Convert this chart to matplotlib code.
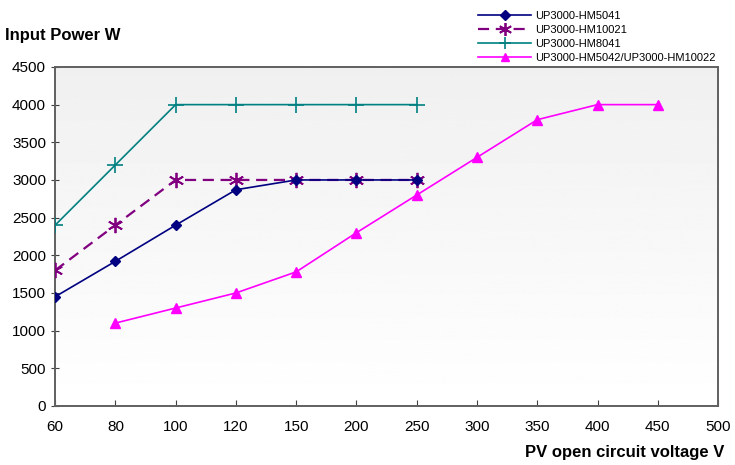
import numpy as np
import matplotlib
matplotlib.use('Agg')
import matplotlib.pyplot as plt

plt.rcParams['font.family'] = ['Liberation Sans', 'DejaVu Sans']

voltages = ['60', '80', '100', '120', '150', '200', '250', '300', '350', '400', '450', '500']

hm5041 = [1450, 1920, 2400, 2870, 3000, 3000, 3000]
hm10021 = [1800, 2400, 3000, 3000, 3000, 3000, 3000]
hm8041 = [2400, 3200, 4000, 4000, 4000, 4000, 4000]
hm5042_x = ['80', '100', '120', '150', '200', '250', '300', '350', '400', '450']
hm5042 = [1100, 1300, 1500, 1780, 2300, 2800, 3300, 3800, 4000, 4000]

pos = {v: i for i, v in enumerate(voltages)}

fig = plt.figure(figsize=(7.35, 4.65), dpi=100)
ax = fig.add_axes([0.075, 0.127, 0.902, 0.729])

# gradient background, light gray at top -> white at bottom
grad = np.linspace(0.94, 1.0, 256).reshape(-1, 1)
ax.imshow(grad, cmap='gray', vmin=0, vmax=1, aspect='auto',
          extent=[0, 1, 0, 1], transform=ax.transAxes, zorder=0)

x1 = [pos[v] for v in voltages[:7]]
ax.plot(x1, hm5041, color='#000080', lw=1.2, marker='D', ms=5.5,
        label='UP3000-HM5041', zorder=5)
ax.plot(x1, hm10021, color='#800080', lw=1.6, ls=(0, (5, 3)),
        marker=(6, 2, 0), ms=11, mew=1.3, label='UP3000-HM10021', zorder=4)
ax.plot(x1, hm8041, color='#008080', lw=1.2, marker='+', ms=11, mew=1.2,
        label='UP3000-HM8041', zorder=3)
ax.plot([pos[v] for v in hm5042_x], hm5042, color='#ff00ff', lw=1.2,
        marker='^', ms=7, label='UP3000-HM5042/UP3000-HM10022', zorder=3)

ax.set_xlim(0, 11)
ax.set_ylim(0, 4500)
ax.set_xticks(range(len(voltages)))
ax.set_xticklabels(voltages)
ax.set_yticks(range(0, 4501, 500))
ax.tick_params(axis='x', direction='in', length=4, labelsize=11, pad=10,
               color='#404040')
ax.tick_params(axis='y', direction='inout', length=6, labelsize=11,
               color='#404040')
for s in ax.spines.values():
    s.set_color('#606060')
    s.set_linewidth(1.4)

fig.text(0.007, 0.913, 'Input Power W', fontsize=12, fontweight='bold')
fig.text(0.985, 0.017, 'PV open circuit voltage V', fontsize=12,
         fontweight='bold', ha='right')

fig.legend(loc='upper right', bbox_to_anchor=(0.983, 0.99), frameon=False,
           fontsize=8, handlelength=4.8, labelspacing=0.34,
           handletextpad=0.35, borderaxespad=0.2, markerscale=0.85)

fig.savefig('out.png', dpi=100)
